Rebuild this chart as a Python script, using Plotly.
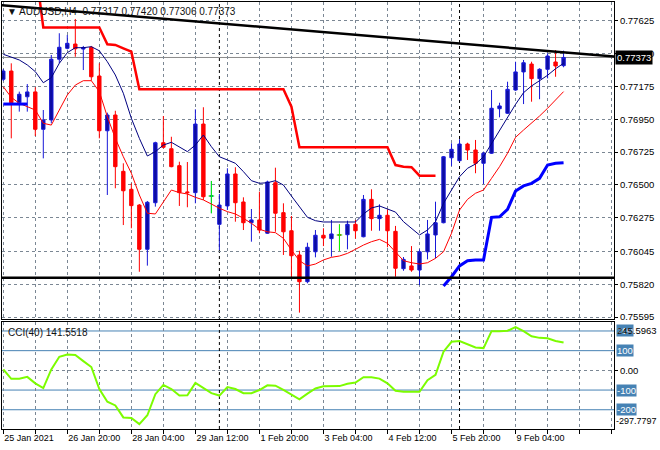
import plotly.graph_objects as go

# ---------------- data (AUDUSD H4) ----------------
opens = [0.77224, 0.77280, 0.77063, 0.77104, 0.77137, 0.76881, 0.76945, 0.77361, 0.77436, 0.77465,
         0.77431, 0.77443, 0.77246, 0.76871, 0.76979, 0.76593, 0.76470, 0.76362, 0.76059, 0.76378,
         0.76789, 0.76748, 0.76632, 0.76452, 0.76447, 0.76917, 0.76424, 0.76230, 0.76356, 0.76575,
         0.76383, 0.76241, 0.76260, 0.76169, 0.76515, 0.76310, 0.76186, 0.76020, 0.75837, 0.76042,
         0.76155, 0.76132, 0.76157, 0.76159, 0.76230, 0.76145, 0.76401, 0.76269, 0.76292, 0.76182,
         0.75926, 0.75945, 0.75917, 0.76042, 0.76157, 0.76241, 0.76686, 0.76666, 0.76780, 0.76739,
         0.76648, 0.76717, 0.77022, 0.76991, 0.77150, 0.77274, 0.77328, 0.77228, 0.77292, 0.77342,
         0.77317]
highs = [0.77294, 0.77333, 0.77139, 0.77191, 0.77169, 0.77013, 0.77390, 0.77539, 0.77527, 0.77637,
         0.77452, 0.77452, 0.77333, 0.76995, 0.77008, 0.76648, 0.76511, 0.76369, 0.76390, 0.76796,
         0.76972, 0.76830, 0.76659, 0.76657, 0.77018, 0.77032, 0.76527, 0.76438, 0.76614, 0.76621,
         0.76415, 0.76335, 0.76454, 0.76529, 0.76618, 0.76374, 0.76287, 0.76049, 0.76104, 0.76191,
         0.76203, 0.76260, 0.76230, 0.76255, 0.76260, 0.76431, 0.76470, 0.76367, 0.76333, 0.76219,
         0.76006, 0.76081, 0.76059, 0.76260, 0.76385, 0.76698, 0.76785, 0.76813, 0.76789, 0.76808,
         0.76728, 0.77150, 0.77063, 0.77207, 0.77344, 0.77356, 0.77344, 0.77299, 0.77402, 0.77424,
         0.77420]
lows = [0.77212, 0.76819, 0.77002, 0.77002, 0.76835, 0.76682, 0.76922, 0.77333, 0.77429, 0.77378,
        0.77287, 0.77214, 0.76819, 0.76431, 0.76477, 0.76225, 0.76203, 0.75905, 0.75947, 0.76351,
        0.76751, 0.76621, 0.76356, 0.76347, 0.76374, 0.76397, 0.76306, 0.76054, 0.76328, 0.76248,
        0.76191, 0.76111, 0.76169, 0.76164, 0.76179, 0.76020, 0.75867, 0.75625, 0.75826, 0.76004,
        0.76081, 0.76008, 0.76049, 0.76059, 0.76132, 0.76141, 0.76186, 0.76186, 0.76073, 0.75871,
        0.75912, 0.75905, 0.75814, 0.75990, 0.75997, 0.76237, 0.76630, 0.76659, 0.76671, 0.76580,
        0.76506, 0.76712, 0.76963, 0.76986, 0.77145, 0.77054, 0.77070, 0.77087, 0.77230, 0.77241,
        0.77306]
closes = [0.77280, 0.77063, 0.77121, 0.77137, 0.76881, 0.76945, 0.77361, 0.77443, 0.77470, 0.77433,
          0.77441, 0.77241, 0.76871, 0.76979, 0.76625, 0.76460, 0.76358, 0.76059, 0.76381, 0.76789,
          0.76758, 0.76625, 0.76447, 0.76447, 0.76917, 0.76419, 0.76424, 0.76362, 0.76575, 0.76378,
          0.76241, 0.76260, 0.76191, 0.76520, 0.76306, 0.76179, 0.76015, 0.75837, 0.76073, 0.76155,
          0.76136, 0.76164, 0.76157, 0.76230, 0.76186, 0.76401, 0.76269, 0.76292, 0.76186, 0.75929,
          0.75990, 0.75917, 0.76042, 0.76164, 0.76241, 0.76693, 0.76744, 0.76780, 0.76739, 0.76648,
          0.76717, 0.77025, 0.77041, 0.77155, 0.77274, 0.77337, 0.77228, 0.77292, 0.77383, 0.77315,
          0.77373]

ma_fast = [0.77395, 0.77378, 0.77356, 0.77322, 0.77276, 0.77200, 0.77235, 0.77333, 0.77406, 0.77440,
           0.77440, 0.77447, 0.77419, 0.77344, 0.77253, 0.77128, 0.76956, 0.76819, 0.76698, 0.76728,
           0.76773, 0.76792, 0.76762, 0.76728, 0.76773, 0.76842, 0.76762, 0.76693, 0.76671, 0.76648,
           0.76591, 0.76529, 0.76511, 0.76515, 0.76529, 0.76499, 0.76424, 0.76351, 0.76278, 0.76255,
           0.76246, 0.76246, 0.76246, 0.76246, 0.76246, 0.76301, 0.76342, 0.76356, 0.76333, 0.76314,
           0.76248, 0.76203, 0.76157, 0.76191, 0.76248, 0.76374, 0.76465, 0.76556, 0.76614, 0.76643,
           0.76693, 0.76785, 0.76876, 0.76967, 0.77052, 0.77132, 0.77178, 0.77214, 0.77251, 0.77296,
           0.77333]
ma_slow = [0.77173, 0.77100, 0.77059, 0.77036, 0.77013, 0.76922, 0.76910, 0.77013, 0.77116, 0.77184,
           0.77214, 0.77214, 0.77139, 0.76967, 0.76819, 0.76693, 0.76580, 0.76431, 0.76306, 0.76301,
           0.76385, 0.76465, 0.76447, 0.76438, 0.76415, 0.76397, 0.76369, 0.76340, 0.76317, 0.76301,
           0.76271, 0.76237, 0.76196, 0.76179, 0.76173, 0.76134, 0.76054, 0.75981, 0.75945, 0.75958,
           0.75986, 0.76004, 0.76013, 0.76031, 0.76059, 0.76088, 0.76111, 0.76127, 0.76100, 0.76042,
           0.75981, 0.75967, 0.75958, 0.75967, 0.75997, 0.76042, 0.76169, 0.76328, 0.76401, 0.76443,
           0.76465, 0.76545, 0.76625, 0.76717, 0.76826, 0.76876, 0.76922, 0.76972, 0.77025, 0.77082,
           0.77139]
N = None
stop_upper = [N, N, N, N, 0.78000, 0.77578, 0.77578, 0.77578, 0.77578, 0.77578,
              0.77578, 0.77578, 0.77578, 0.77463, 0.77459, 0.77436, 0.77413, 0.77155, 0.77155, 0.77155,
              0.77155, 0.77155, 0.77155, 0.77155, 0.77155, 0.77155, 0.77155, 0.77155, 0.77155, 0.77155,
              0.77155, 0.77155, 0.77155, 0.77155, 0.77155, 0.77155, 0.77036, 0.76758, 0.76758, 0.76758,
              0.76758, 0.76758, 0.76758, 0.76758, 0.76758, 0.76758, 0.76758, 0.76758, 0.76758, 0.76636,
              0.76625, 0.76621, 0.76563, 0.76563, 0.76563, N, N, N, N, N,
              N, N, N, N, N, N, N, N, N, N, N]
stop_lower = [0.77054, 0.77054, 0.77054, 0.77054, N, N, N, N, N, N,
              N, N, N, N, N, N, N, N, N, N,
              N, N, N, N, N, N, N, N, N, N,
              N, N, N, N, N, N, N, N, N, N,
              N, N, N, N, N, N, N, N, N, N,
              N, N, N, N, N, 0.75807, 0.75871, 0.75945, 0.75981, 0.75986,
              0.75986, 0.76278, 0.76282, 0.76333, 0.76458, 0.76493, 0.76511, 0.76545, 0.76636, 0.76648,
              0.76652]
cci = [5, -43, -43, -33, -66, -90, 5, 69, 80, 78,
       47, 17, -95, -159, -178, -239, -242, -273, -228, -121,
       -74, -95, -128, -126, -64, -90, -116, -128, -85, -95,
       -116, -116, -100, -76, -78, -99, -121, -147, -118, -92,
       -81, -80, -80, -68, -62, -35, -35, -42, -66, -104,
       -109, -109, -109, -50, -23, 95, 145, 149, 133, 116,
       113, 199, 199, 201, 220, 199, 173, 165, 163, 149, 141.5518]

trend_bars = [-1, 77]
trend_prices = [0.77735, 0.77376]
support_level = 0.75864
week_starts = [27, 57]
price_ticks = [0.77625, 0.77400, 0.77175, 0.76950, 0.76725, 0.76500, 0.76275, 0.76045, 0.75820, 0.75595]
time_label_bars = [0, 8, 16, 24, 32, 40, 48, 56, 64]
time_labels = ["25 Jan 2021", "26 Jan 20:00", "28 Jan 04:00", "29 Jan 12:00", "1 Feb 20:00",
               "3 Feb 04:00", "4 Feb 12:00", "5 Feb 20:00", "9 Feb 04:00"]
cci_levels = [200, 100, -100, -200]
cci_min, cci_max = -297.7797, 245.5963
symbol = "AUDUSD,H4"

# ---------------- figure ----------------
bars = list(range(len(opens)))
x_range = [-0.16, 76.3]
grid_ticks = list(range(0, 77, 4))
grid_text = [time_labels[time_label_bars.index(t)] if t in time_label_bars else "" for t in grid_ticks]

GRID = "#7b8794"
BLUE_LVL = "#4682b4"
FONT = "Liberation Sans"
AX_FONT = dict(family=FONT, size=9.5, color="black")

fig = go.Figure()

fig.add_trace(go.Candlestick(
    x=bars, open=opens, high=highs, low=lows, close=closes,
    increasing=dict(line=dict(color="#1818d8", width=1), fillcolor="#0c0ca0"),
    decreasing=dict(line=dict(color="#ff0000", width=1), fillcolor="#ff0000"),
    whiskerwidth=0, xaxis="x", yaxis="y", hoverinfo="skip", showlegend=False))

# doji candles (open == close) drawn in lime
dx, dy = [], []
for i in bars:
    if opens[i] == closes[i]:
        dx += [i, i, None, i - 0.35, i + 0.35, None]
        dy += [lows[i], highs[i], None, opens[i], opens[i], None]
fig.add_trace(go.Scatter(x=dx, y=dy, mode="lines", line=dict(color="#00ff00", width=1),
                         xaxis="x", yaxis="y", hoverinfo="skip"))

fig.add_trace(go.Scatter(x=bars, y=ma_slow, mode="lines", line=dict(color="#ff0000", width=1),
                         xaxis="x", yaxis="y", hoverinfo="skip"))
fig.add_trace(go.Scatter(x=bars, y=ma_fast, mode="lines", line=dict(color="#000080", width=1),
                         xaxis="x", yaxis="y", hoverinfo="skip"))
fig.add_trace(go.Scatter(x=bars, y=stop_upper, mode="lines", line=dict(color="#ff0000", width=2.5),
                         xaxis="x", yaxis="y", hoverinfo="skip", connectgaps=False))
fig.add_trace(go.Scatter(x=bars, y=stop_lower, mode="lines", line=dict(color="#0000ff", width=3),
                         xaxis="x", yaxis="y", hoverinfo="skip", connectgaps=False))
fig.add_trace(go.Scatter(x=trend_bars, y=trend_prices, mode="lines", line=dict(color="black", width=2.5),
                         xaxis="x", yaxis="y", hoverinfo="skip"))

fig.add_trace(go.Scatter(x=bars, y=cci, mode="lines", line=dict(color="#7cfc00", width=2),
                         xaxis="x2", yaxis="y2", hoverinfo="skip"))

shapes = []
shapes.append(dict(type="line", xref="x domain", x0=0, x1=1, yref="y", y0=support_level, y1=support_level,
                   line=dict(color="black", width=2.5), layer="above"))
shapes.append(dict(type="line", xref="x domain", x0=0, x1=1, yref="y", y0=closes[-1], y1=closes[-1],
                   line=dict(color="#8a8a8a", width=1), layer="below"))
for lv in cci_levels:
    shapes.append(dict(type="line", xref="x2 domain", x0=0, x1=1, yref="y2", y0=lv, y1=lv,
                       line=dict(color=BLUE_LVL, width=1), layer="below"))
for wb in week_starts:
    for xr, yr in (("x", "y domain"), ("x2", "y2 domain")):
        shapes.append(dict(type="line", xref=xr, x0=wb, x1=wb, yref=yr, y0=0, y1=1,
                           line=dict(color="black", width=1, dash="3px,3px"), layer="below"))

annotations = []
annotations.append(dict(text="\u25BC %s  %.5f %.5f %.5f %.5f" % (symbol, opens[-1], highs[-1], lows[-1], closes[-1]),
                        xref="paper", yref="paper", x=0, y=1, xanchor="left", yanchor="top",
                        xshift=3, yshift=-2, showarrow=False, font=dict(size=10, color="#111111", family=FONT)))
annotations.append(dict(text="CCI(40) %.4f" % cci[-1], xref="paper", yref="y2 domain", x=0, y=1,
                        xanchor="left", yanchor="top", xshift=4, yshift=-3, showarrow=False,
                        font=dict(size=10, color="#111111", family=FONT)))
annotations.append(dict(text="%.5f" % closes[-1], xref="paper", yref="y", x=1, y=closes[-1],
                        xanchor="left", yanchor="middle", xshift=1, showarrow=False, bgcolor="black",
                        borderpad=1, font=dict(size=9.5, color="white", family=FONT)))
for lv in cci_levels:
    annotations.append(dict(text=str(lv), xref="paper", yref="y2", x=1, y=lv, xanchor="left",
                            yanchor="middle", xshift=2, showarrow=False, bgcolor=BLUE_LVL, borderpad=0,
                            font=dict(size=9.5, color="white", family=FONT)))
annotations.append(dict(text="%.4f" % cci_max, xref="paper", yref="y2 domain", x=1, y=1, xanchor="left",
                        yanchor="top", xshift=1, yshift=-1, showarrow=False, font=AX_FONT))
annotations.append(dict(text="%.4f" % cci_min, xref="paper", yref="y2 domain", x=1, y=0, xanchor="left",
                        yanchor="bottom", xshift=0, yshift=1, showarrow=False,
                        font=dict(family=FONT, size=9, color="black")))

axis_common = dict(showline=True, linecolor="black", linewidth=1, mirror=True, zeroline=False,
                   gridcolor=GRID, griddash="3px,3px", gridwidth=1, showgrid=True)

fig.update_layout(
    width=660, height=450,
    margin=dict(l=2, r=46, t=2, b=21),
    paper_bgcolor="white", plot_bgcolor="white",
    showlegend=False, boxgap=0.4,
    font=dict(family=FONT, size=10, color="black"),
    shapes=shapes, annotations=annotations,
    xaxis=dict(domain=[0, 1], anchor="y", range=x_range, tickvals=grid_ticks, showticklabels=False,
               ticks="", rangeslider=dict(visible=False), **axis_common),
    yaxis=dict(domain=[0.2576, 1], anchor="x", side="right", range=[0.755814, 0.777531],
               tickvals=price_ticks, ticktext=["%.5f" % v for v in price_ticks], tickfont=AX_FONT,
               ticks="outside", ticklen=3, tickcolor="black", **axis_common),
    xaxis2=dict(domain=[0, 1], anchor="y2", matches="x", range=x_range, tickvals=grid_ticks,
                ticktext=grid_text, ticklabelposition="outside right", tickangle=0, ticks="outside",
                ticklen=4, tickcolor="black", tickfont=dict(family=FONT, size=9, color="black"),
                **axis_common),
    yaxis2=dict(domain=[0, 0.2506], anchor="x2", side="right", range=[cci_min, cci_max],
                tickvals=[0], ticktext=["0.00"], tickfont=AX_FONT, ticks="outside", ticklen=3,
                tickcolor="black", **axis_common),
)

fig.write_html("out.html", config={"displayModeBar": False},
               post_script="document.body.style.margin='0';document.body.style.overflow='hidden';")
